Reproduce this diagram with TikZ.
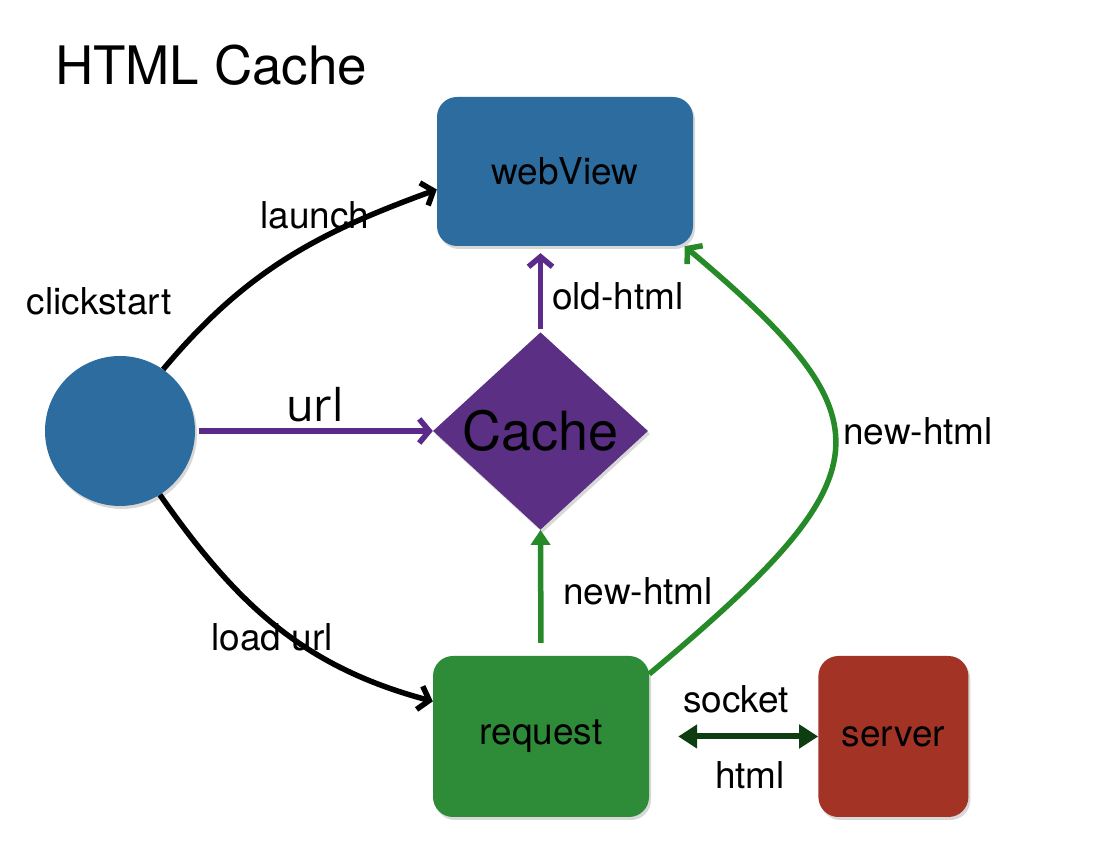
\documentclass[tikz,border=0pt]{standalone}
\usepackage{fontspec}
\setmainfont{TeX Gyre Heros}
\newfontfamily\urlfont{Open Sans}
\usepackage{xcolor}
\usepackage{tikz}
\usetikzlibrary{shapes,arrows.meta,positioning,calc,shadows}

\definecolor{viewblue}{RGB}{44,108,158}
\definecolor{cachepurple}{RGB}{90,47,132}
\definecolor{reqgreen}{RGB}{46,139,55}
\definecolor{srvred}{RGB}{162,51,37}
\definecolor{linepurple}{RGB}{92,42,138}
\definecolor{linegreen}{RGB}{38,138,40}
\definecolor{sockgreen}{RGB}{14,61,18}

\begin{document}
\begin{tikzpicture}[x=1pt,y=1pt,
  card/.style={rounded corners=20pt,inner sep=0pt,font=\fontsize{37}{40}\selectfont,
    drop shadow={shadow xshift=2pt,shadow yshift=-3pt,opacity=0.3}},
  lbl/.style={font=\fontsize{37}{40}\selectfont,inner sep=0pt},
  barb/.style={line width=5.5pt,-{Straight Barb[length=10pt,width=24pt]}},
  blk/.style={barb,black},
  purp/.style={barb,linepurple},
  grn/.style={barb,linegreen}]
  % page
  \fill[white] (0,0) rectangle (1114,842);
  \useasboundingbox (0,0) rectangle (1114,842);
  % title
  \node[anchor=base west,inner sep=0pt,font=\fontsize{53}{60}\selectfont] (title) at (55,757) {HTML Cache};
  % boxes
  \node[card,fill=viewblue,minimum width=256pt,minimum height=149pt] (web) at (565,670.5) {webView};
  \node[circle,fill=viewblue,minimum size=150pt,
    drop shadow={shadow xshift=2pt,shadow yshift=-3pt,opacity=0.3}] (start) at (120,411) {};
  \node[diamond,fill=cachepurple,minimum width=215pt,minimum height=195pt,inner sep=0pt,
    font=\fontsize{54}{60}\selectfont,
    drop shadow={shadow xshift=2pt,shadow yshift=-3pt,opacity=0.3}] (cache) at (540.5,411) {Cache};
  \node[card,fill=reqgreen,minimum width=216pt,minimum height=161pt] (req) at (541,105.5) {request};
  \node[card,fill=srvred,minimum width=150pt,minimum height=161pt,right=169pt of req] (srv) {server};
  % labels
  \node[lbl,anchor=base] (clicklbl) at (99,527) {clickstart};
  \node[lbl,anchor=base] (launchlbl) at (315,613) {launch};
  \node[anchor=base,inner sep=0pt,font=\urlfont\fontsize{45}{50}\selectfont] (urllbl) at (315,420) {url};
  \node[lbl,anchor=base west] (oldlbl) at (552,532) {old-html};
  \node[lbl,anchor=base west] (newlbl) at (563,237) {new-html};
  \node[lbl,anchor=base west] (newlbltwo) at (843,397) {new-html};
  \node[lbl,anchor=base] (loadlbl) at (272,191) {load url};
  \node[lbl,anchor=base] (socklbl) at (736,129) {socket};
  \node[lbl,anchor=base] (htmllbl) at (750,53) {html};
  % arrows
  \draw[blk] (start.55) to[out=50,in=200] (web.188);
  \draw[blk] (start.-58) to[out=-55,in=165] (req.162);
  \draw[purp,shorten <=4pt] (start.east) -- (cache.west);
  \draw[purp,shorten <=3pt,shorten >=7pt] (cache.north) -- (cache.north |- web.south);
  \draw[linegreen,line width=5.5pt,-{Triangle[length=15pt,width=19pt]},shorten <=13pt] (req.north) -- (cache.south);
  \draw[grn] (req.30) .. controls +(240,201) and +(208,-175) .. (web.-32);
  \draw[sockgreen,line width=6pt,{Triangle[length=19pt,width=23pt]}-{Triangle[length=19pt,width=23pt]},
    shorten <=29pt] (req.east) -- (srv.west);
\end{tikzpicture}
\end{document}
